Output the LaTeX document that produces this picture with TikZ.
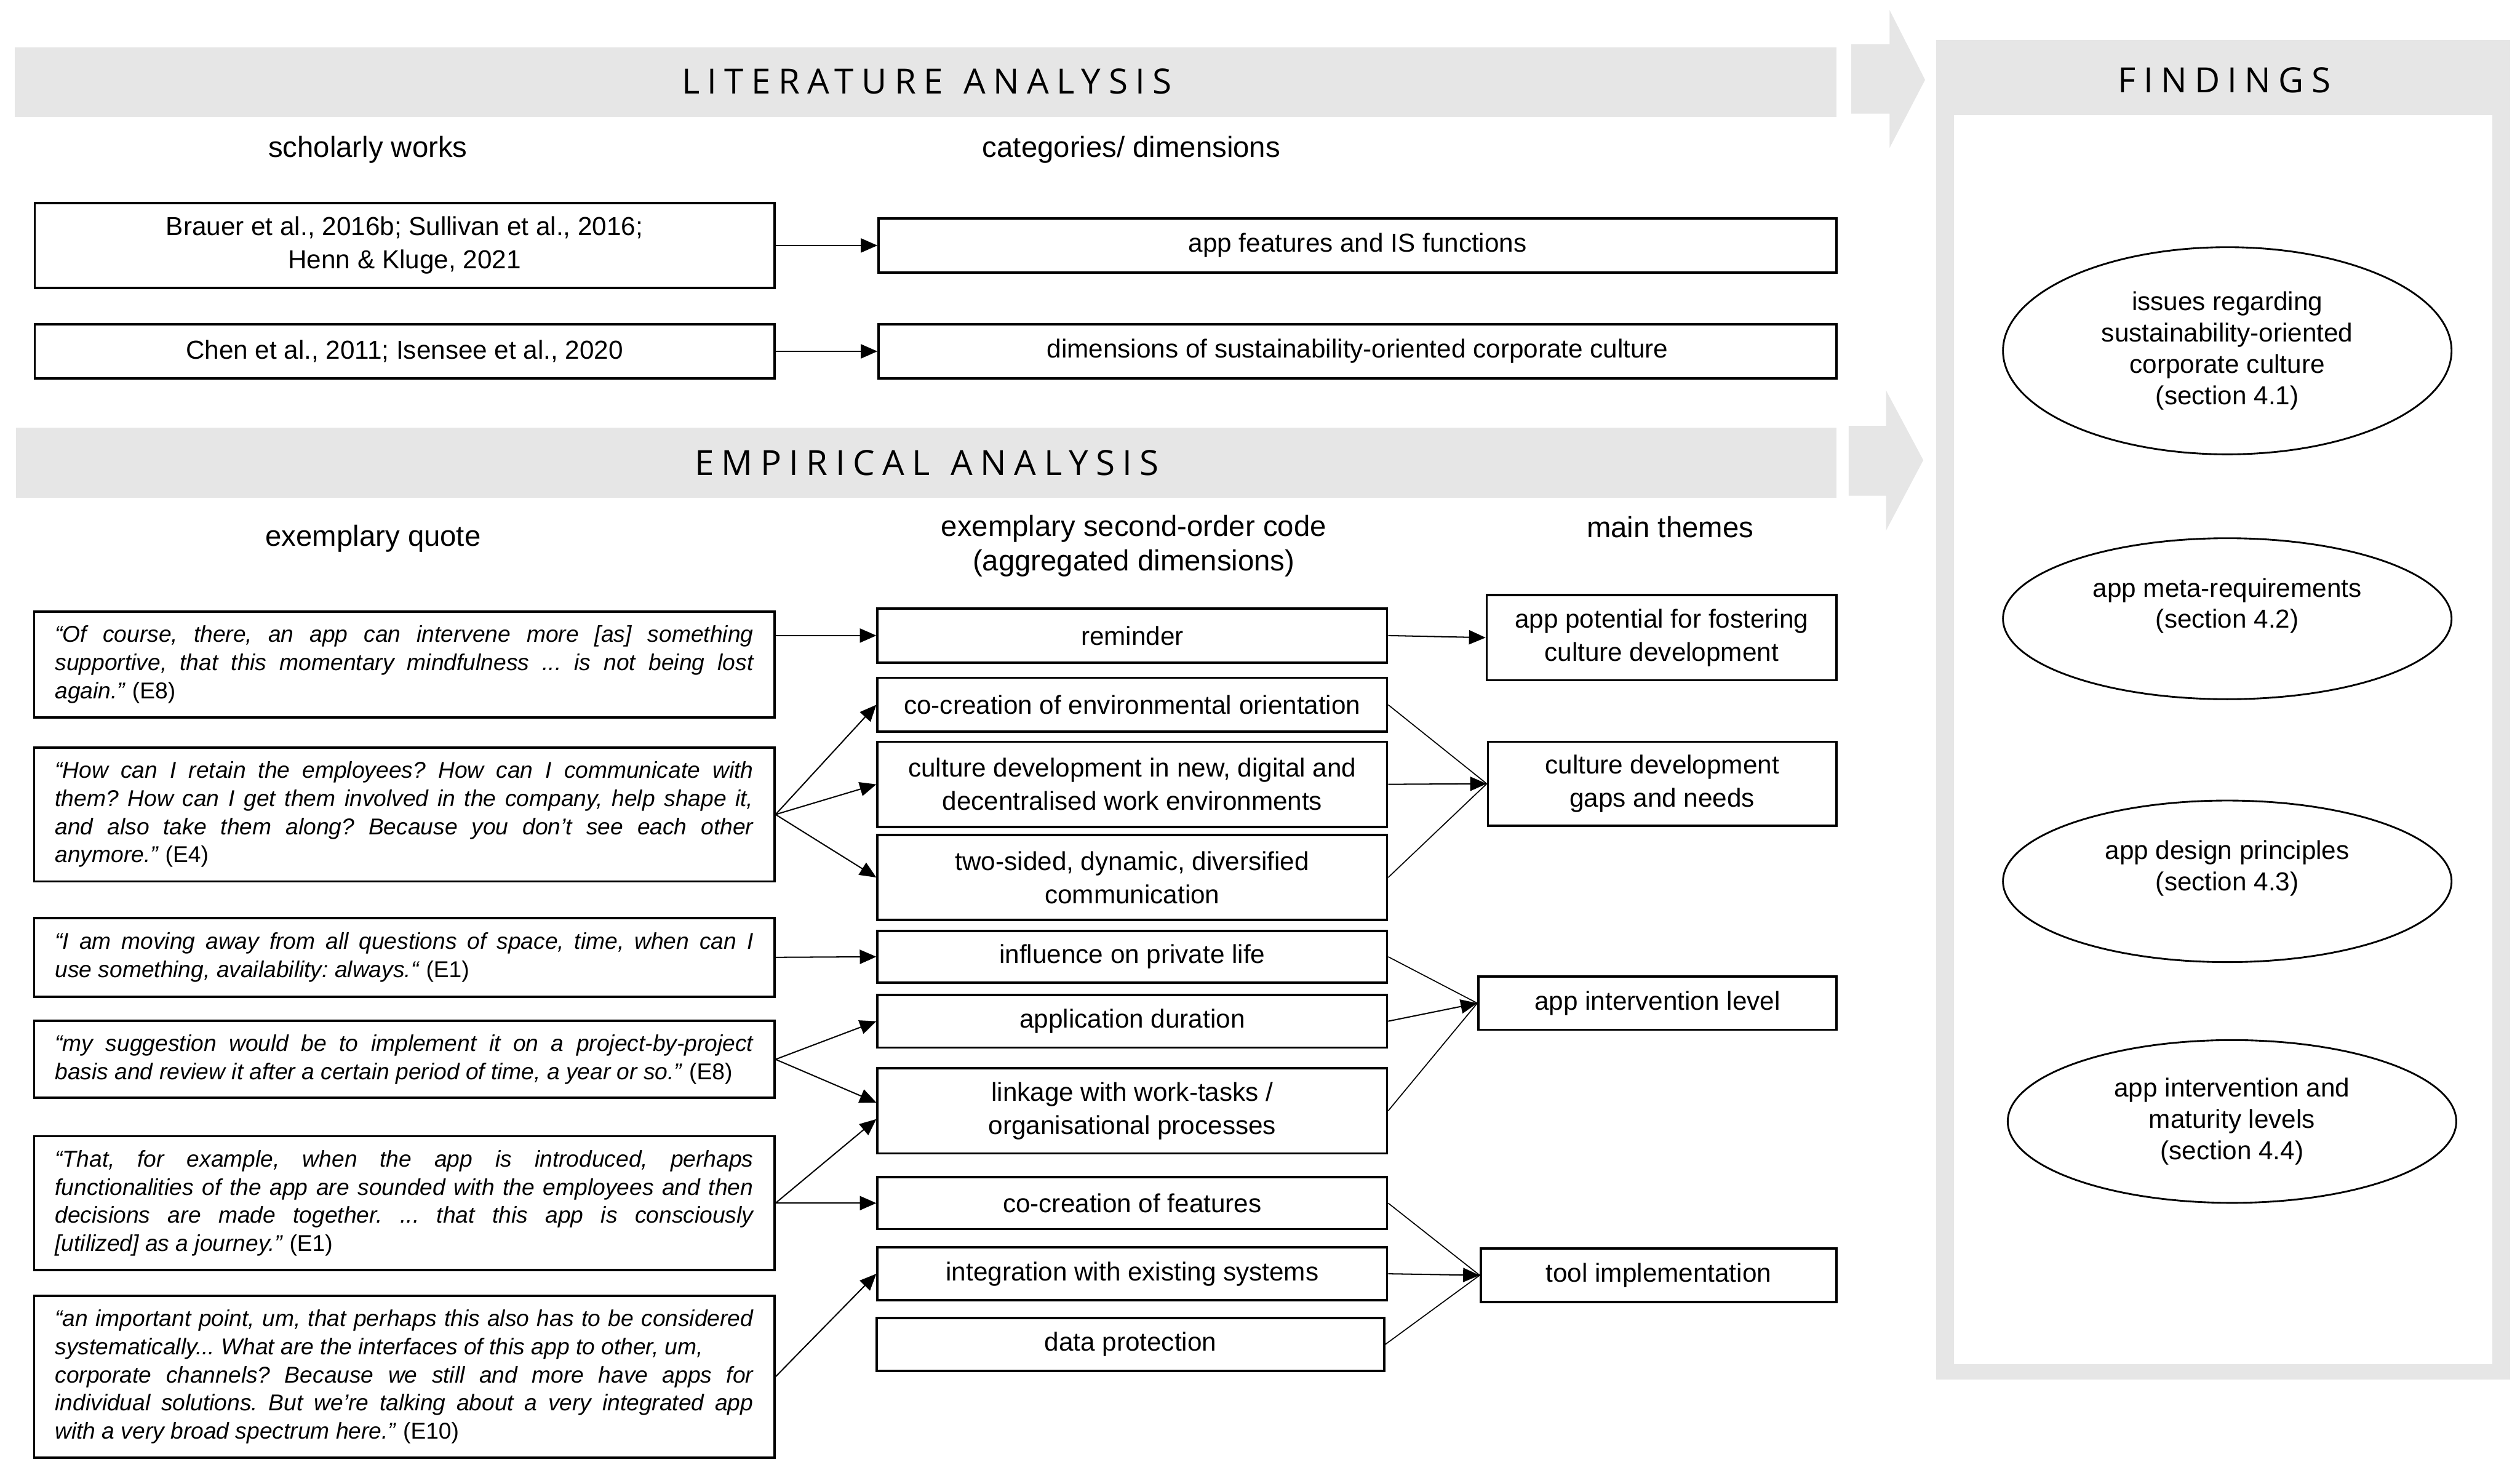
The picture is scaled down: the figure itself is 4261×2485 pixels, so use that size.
\documentclass[tikz,border=0pt]{standalone}
\usepackage{fontspec}
\setmainfont{Liberation Sans}
\newfontfamily\hdfont{Open Sans}[LetterSpace=22]
\usetikzlibrary{arrows.meta,shapes.geometric}
\definecolor{bandgray}{RGB}{230,230,230}
\frenchspacing
\tikzset{
 box/.style={draw=black, line width=1.1pt, inner sep=2pt, font=\fontsize{12.5}{16}\selectfont, align=center},
 quotebox/.style={draw=black, line width=1.1pt, inner sep=0pt, text width=11.8cm, align=justify, font=\fontsize{11}{13.5}\selectfont},
 ell/.style={draw=black, line width=0.85pt, ellipse, inner sep=0pt, align=center, font=\fontsize{12.5}{15}\selectfont},
 colhead/.style={font=\fontsize{14}{16.5}\selectfont, align=center},
 bandtext/.style={font=\hdfont\fontsize{16.7}{20}\selectfont},
 conn/.style={line width=0.6pt, -{Triangle[length=0.28cm,width=0.24cm]}},
 plainconn/.style={line width=0.5pt},
}
\begin{document}
\begin{tikzpicture}[x=0.01cm,y=-0.01cm]
\useasboundingbox (0,0) rectangle (4261,2485);
\fill[white] (0,0) rectangle (4261,2485);
% bands
\fill[bandgray] (25,80) rectangle (3105,198);
\fill[bandgray] (27,723) rectangle (3105,842);
\node[bandtext] (lith) at (1567,138) {LITERATURE\hspace{0.6em}ANALYSIS};
\node[bandtext] (emph) at (1567,783) {EMPIRICAL\hspace{0.6em}ANALYSIS};
% chevrons
\fill[bandgray] (3130,75)--(3195,75)--(3195,17)--(3255,135)--(3195,250)--(3195,192)--(3130,192)--cycle;
\fill[bandgray] (3126,720)--(3189,720)--(3189,660)--(3252,778)--(3189,897)--(3189,838)--(3126,838)--cycle;
% findings frame
\fill[bandgray] (3274,68) rectangle (4244,2332);
\fill[white] (3304,195) rectangle (4214,2306);
\node[bandtext] (findh) at (3761,136) {FINDINGS};
% column headers
\node[colhead] (hsch) at (622,253) {scholarly works};
\node[colhead] (hcat) at (1913,253) {categories/ dimensions};
\node[colhead] (hquo) at (631,911) {exemplary quote};
\node[colhead] (hsec) at (1917,923) {exemplary second-order code\\(aggregated dimensions)};
\node[colhead] (hmain) at (2824,891) {main themes};
% literature boxes
\node[box, minimum width=12.5cm, minimum height=1.44cm] (brauer) at (684,415) {Brauer et al., 2016b; Sullivan et al., 2016;\\Henn \& Kluge, 2021};
\node[box, minimum width=16.19cm, minimum height=0.91cm] (appfeat) at (2295.5,415) {app features and IS functions};
\node[box, minimum width=12.5cm, minimum height=0.92cm] (chen) at (684,594) {Chen et al., 2011; Isensee et al., 2020};
\node[box, minimum width=16.19cm, minimum height=0.92cm] (dims) at (2295.5,594) {dimensions of sustainability-oriented corporate culture};
% quotes
\node[quotebox, minimum width=12.51cm, minimum height=1.79cm] (q1) at (683.5,1123.5) {\textit{“Of course, there, an app can intervene more [as] something\linebreak supportive, that this momentary mindfulness ... is not being lost\linebreak again."} (E8)};
\node[quotebox, minimum width=12.51cm, minimum height=2.26cm] (q2) at (683.5,1377) {\textit{“How can I retain the employees? How can I communicate with\linebreak them? How can I get them involved in the company, help shape it,\linebreak and also take them along? Because you don't see each other\linebreak anymore."} (E4)};
\node[quotebox, minimum width=12.51cm, minimum height=1.33cm] (q3) at (683.5,1618.5) {\textit{“I am moving away from all questions of space, time, when can I\linebreak use something, availability: always.“} (E1)};
\node[quotebox, minimum width=12.51cm, minimum height=1.30cm] (q4) at (683.5,1791) {\textit{“my suggestion would be to implement it on a project-by-project\linebreak basis and review it after a certain period of time, a year or so."} (E8)};
\node[quotebox, minimum width=12.51cm, minimum height=2.26cm] (q5) at (683.5,2034) {\textit{“That, for example, when the app is introduced, perhaps\linebreak functionalities of the app are sounded with the employees and then\linebreak decisions are made together. ... that this app is consciously\linebreak{}[utilized] as a journey.”} (E1)};
\node[quotebox, minimum width=12.51cm, minimum height=2.73cm] (q6) at (683.5,2327.5) {\textit{“an important point, um, that perhaps this also has to be considered\linebreak systematically... What are the interfaces of this app to other, um,\\corporate channels? Because we still and more have apps for\linebreak individual solutions. But we're talking about a very integrated app\linebreak with a very broad spectrum here.”} (E10)};
% second-order codes
\node[box, minimum width=8.61cm, minimum height=0.91cm] (rem) at (1914.5,1074.5) {reminder};
\node[box, minimum width=8.61cm, minimum height=0.91cm] (cenv) at (1914.5,1191.5) {co-creation of environmental orientation};
\node[box, minimum width=8.61cm, minimum height=1.44cm] (cdev) at (1914.5,1326) {culture development in new, digital and\\decentralised work environments};
\node[box, minimum width=8.61cm, minimum height=1.43cm] (twos) at (1914.5,1483.5) {two-sided, dynamic, diversified\\communication};
\node[box, minimum width=8.61cm, minimum height=0.87cm] (infl) at (1914.5,1617.5) {influence on private life};
\node[box, minimum width=8.61cm, minimum height=0.89cm] (appd) at (1914.5,1726.5) {application duration};
\node[box, minimum width=8.61cm, minimum height=1.44cm] (link) at (1914.5,1878) {linkage with work-tasks /\\organisational processes};
\node[box, minimum width=8.61cm, minimum height=0.88cm] (cfeat) at (1914.5,2034) {co-creation of features};
\node[box, minimum width=8.61cm, minimum height=0.89cm] (integ) at (1914.5,2153.5) {integration with existing systems};
\node[box, minimum width=8.57cm, minimum height=0.90cm] (datap) at (1911.5,2273) {data protection};
% main themes
\node[box, minimum width=5.91cm, minimum height=1.44cm] (pot) at (2809.5,1078) {app potential for fostering\\culture development};
\node[box, minimum width=5.89cm, minimum height=1.42cm] (gaps) at (2810.5,1325) {culture development\\gaps and needs};
\node[box, minimum width=6.05cm, minimum height=0.90cm] (ail) at (2802.5,1696) {app intervention level};
\node[box, minimum width=6.01cm, minimum height=0.90cm] (tool) at (2804.5,2156) {tool implementation};
% findings ellipses
\node[ell, minimum width=7.58cm, minimum height=3.5cm] (e1) at (3766,593) {issues regarding\\sustainability-oriented\\corporate culture\\(section 4.1)};
\node[ell, minimum width=7.58cm, minimum height=2.72cm] (e2) at (3766,1046) {app meta-requirements\\(section 4.2)\\\mbox{}};
\node[ell, minimum width=7.58cm, minimum height=2.73cm] (e3) at (3766,1490) {app design principles\\(section 4.3)\\\mbox{}};
\node[ell, minimum width=7.58cm, minimum height=2.75cm] (e4) at (3774,1896) {app intervention and\\maturity levels\\(section 4.4)};
% connectors
\draw[conn] (brauer.east) -- (appfeat.west);
\draw[conn] (chen.east) -- (dims.west);
\draw[conn] (q1.east |- rem.west) -- (rem.west);
\draw[conn] (rem.east) -- (pot.west);
\draw[conn] (q2.east) -- (cenv.west);
\draw[conn] (q2.east) -- (cdev.west);
\draw[conn] (q2.east) -- (twos.west);
\draw[plainconn] (cenv.east) -- (gaps.west);
\draw[conn] (cdev.east) -- (gaps.west);
\draw[plainconn] (twos.east) -- (gaps.west);
\draw[conn] (q3.east) -- (infl.west);
\draw[conn] (q4.east) -- (appd.west);
\draw[conn] (q4.east) -- ([yshift=0.14cm]link.west);
\draw[conn] (q5.east) -- ([yshift=-0.14cm]link.west);
\draw[conn] (q5.east) -- (cfeat.west);
\draw[conn] (q6.east) -- (integ.west);
\draw[plainconn] (infl.east) -- (ail.west);
\draw[conn] (appd.east) -- (ail.west);
\draw[plainconn] (link.east) -- (ail.west);
\draw[plainconn] (cfeat.east) -- (tool.west);
\draw[conn] (integ.east) -- (tool.west);
\draw[plainconn] (datap.east) -- (tool.west);
\end{tikzpicture}
\end{document}
